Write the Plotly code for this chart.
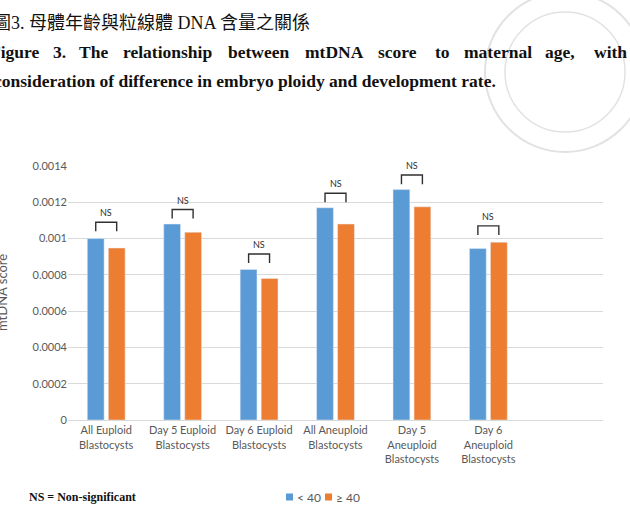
import plotly.graph_objects as go

categories = [
    "All Euploid<br>Blastocysts",
    "Day 5 Euploid<br>Blastocysts",
    "Day 6 Euploid<br>Blastocysts",
    "All Aneuploid<br>Blastocysts",
    "Day 5<br>Aneuploid<br>Blastocysts",
    "Day 6<br>Aneuploid<br>Blastocysts",
]
under_40 = [0.00100, 0.00108, 0.00083, 0.00117, 0.00127, 0.000945]
over_40 = [0.000948, 0.001035, 0.00078, 0.00108, 0.001175, 0.00098]
series_names = ["< 40", "≥ 40"]
bracket_top = [0.00109, 0.00116, 0.000915, 0.00125, 0.00135, 0.00107]
sig_labels = ["NS", "NS", "NS", "NS", "NS", "NS"]
y_ticks = [0, 0.0002, 0.0004, 0.0006, 0.0008, 0.001, 0.0012, 0.0014]
y_tick_labels = ["0", "0.0002", "0.0004", "0.0006", "0.0008", "0.001", "0.0012", "0.0014"]

BLUE = "#5B9BD5"
ORANGE = "#ED7D31"
GREY = "#595959"
FONT = "Lato"

W, H = 630, 528
ML, MR, MT, MB = 68, 27, 166, 108


def px_x(px):
    return (px - ML) / (W - ML - MR)


def px_y(py):
    return (H - MB - py) / (H - MT - MB)


fig = go.Figure()
fig.add_trace(go.Bar(x=list(range(len(categories))), y=under_40, name=series_names[0],
                     marker_color=BLUE, showlegend=False))
fig.add_trace(go.Bar(x=list(range(len(categories))), y=over_40, name=series_names[1],
                     marker_color=ORANGE, showlegend=False))

shapes = []
annotations = []
off = 0.137
leg = 0.00005
for i, top in enumerate(bracket_top):
    shapes.append(dict(type="path", xref="x", yref="y",
                       path=f"M {i-off},{top-leg} L {i-off},{top} L {i+off},{top} L {i+off},{top-leg}",
                       line=dict(color="#303030", width=1.4)))
    annotations.append(dict(x=i, y=top, xref="x", yref="y", text=sig_labels[i],
                            showarrow=False, yanchor="bottom", yshift=2,
                            font=dict(family=FONT, size=9, color="#303030")))

# faint watermark seal
for r, wdt in [(80, 2), (60, 1.5)]:
    cx, cy = 565, 72
    shapes.append(dict(type="circle", xref="paper", yref="paper",
                       x0=px_x(cx - r), x1=px_x(cx + r), y0=px_y(cy + r), y1=px_y(cy - r),
                       line=dict(color="rgba(190,190,190,0.45)", width=wdt), layer="below"))

# manual legend
leg_items = [(286, BLUE, series_names[0]), (325, ORANGE, series_names[1])]
LY = 497
for lx, col, name in leg_items:
    shapes.append(dict(type="rect", xref="paper", yref="paper",
                       x0=px_x(lx), x1=px_x(lx + 7), y0=px_y(LY + 3.5), y1=px_y(LY - 3.5),
                       fillcolor=col, line=dict(width=0)))
    annotations.append(dict(x=px_x(lx + 9), y=px_y(LY), xref="paper", yref="paper", text=name,
                            showarrow=False, xanchor="left", yanchor="middle",
                            font=dict(family=FONT, size=12, color=GREY)))

annotations.append(dict(x=px_x(-9), y=px_y(23), xref="paper", yref="paper",
                        text="圖3. 母體年齡與粒線體 DNA 含量之關係", showarrow=False,
                        xanchor="left", yanchor="middle",
                        font=dict(family="Liberation Serif, Noto Sans CJK TC", size=18, color="#111")))

words = ["Figure", "3.", "The", "relationship", "between", "mtDNA", "score", "to", "maternal", "age,", "with"]
word_x = [-12, 51, 77, 121, 226, 303, 376, 433, 462, 543, 592]
for wd, wx in zip(words, word_x):
    annotations.append(dict(x=px_x(wx), y=px_y(52), xref="paper", yref="paper",
                            text=f"<b>{wd}</b>", showarrow=False, xanchor="left", yanchor="middle",
                            font=dict(family="Liberation Serif", size=17.5, color="#111")))
annotations.append(dict(x=px_x(-8), y=px_y(81), xref="paper", yref="paper",
                        text="<b>consideration of difference in embryo ploidy and development rate.</b>",
                        showarrow=False, xanchor="left", yanchor="middle",
                        font=dict(family="Liberation Serif", size=17.5, color="#111")))

annotations.append(dict(x=px_x(2), y=0.5, xref="paper", yref="paper", text="mtDNA score",
                        textangle=-90, showarrow=False, xanchor="center", yanchor="middle",
                        font=dict(family=FONT, size=13, color=GREY)))
annotations.append(dict(x=px_x(27), y=px_y(LY), xref="paper", yref="paper",
                        text="<b>NS = Non-significant</b>", showarrow=False,
                        xanchor="left", yanchor="middle",
                        font=dict(family="Liberation Serif", size=12, color="#111")))

fig.update_layout(
    width=W, height=H,
    margin=dict(l=ML, r=MR, t=MT, b=MB),
    paper_bgcolor="white", plot_bgcolor="white",
    barmode="group", bargap=0.45, bargroupgap=0.2,
    shapes=shapes, annotations=annotations,
    showlegend=False,
    xaxis=dict(range=[-0.5, 6.5], tickvals=list(range(len(categories))), ticktext=categories,
               showgrid=False, showline=True, linecolor="#D9D9D9", linewidth=1,
               ticks="", tickfont=dict(family=FONT, size=11, color=GREY), fixedrange=True),
    yaxis=dict(range=[0, 0.0014], tickvals=y_ticks, ticktext=y_tick_labels,
               showgrid=True, gridcolor="#D9D9D9", gridwidth=1, zeroline=False,
               ticks="", ticklen=0, tickfont=dict(family=FONT, size=11, color=GREY)),
)

fig.write_html("out.html")
